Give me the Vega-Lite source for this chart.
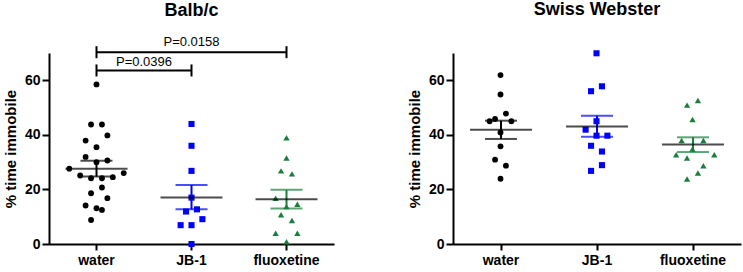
{
  "$schema": "https://vega.github.io/schema/vega-lite/v6.json",
  "padding": {"left": 3, "top": 1, "right": 3, "bottom": 2},
  "config": {
    "font": "Liberation Sans",
    "view": {"stroke": null},
    "axis": {"domainColor": "#000", "domainWidth": 2, "tickColor": "#000", "tickWidth": 2, "grid": false, "labelColor": "#000", "labelFontWeight": "bold", "titleColor": "#000", "titleFontWeight": "bold", "titleFontSize": 15, "labelFont": "Liberation Sans", "titleFont": "Liberation Sans"},
    "axisX": {"labelFontSize": 14, "tickSize": 6, "labelPadding": 3, "labelAngle": 0, "title": null},
    "axisY": {"labelFontSize": 14, "tickSize": 7, "labelPadding": 2, "titlePadding": 6},
    "title": {"fontSize": 18, "fontWeight": "bold", "color": "#000", "frame": "group", "anchor": "middle", "baseline": "alphabetic"},
    "concat": {"spacing": 73}
  },
  "datasets": {
    "points": [
      {"strain": "Balb/c", "group": "water", "value": 58.5, "slot": 0},
      {"strain": "Balb/c", "group": "water", "value": 43.8, "slot": -1},
      {"strain": "Balb/c", "group": "water", "value": 43.8, "slot": 1},
      {"strain": "Balb/c", "group": "water", "value": 39.8, "slot": 2},
      {"strain": "Balb/c", "group": "water", "value": 37.9, "slot": -2},
      {"strain": "Balb/c", "group": "water", "value": 35.5, "slot": 0},
      {"strain": "Balb/c", "group": "water", "value": 31.9, "slot": -2},
      {"strain": "Balb/c", "group": "water", "value": 30.0, "slot": 0},
      {"strain": "Balb/c", "group": "water", "value": 30.6, "slot": 2},
      {"strain": "Balb/c", "group": "water", "value": 27.6, "slot": -5},
      {"strain": "Balb/c", "group": "water", "value": 26.0, "slot": 5},
      {"strain": "Balb/c", "group": "water", "value": 25.1, "slot": -3},
      {"strain": "Balb/c", "group": "water", "value": 24.1, "slot": -1},
      {"strain": "Balb/c", "group": "water", "value": 24.1, "slot": 1},
      {"strain": "Balb/c", "group": "water", "value": 24.5, "slot": 3},
      {"strain": "Balb/c", "group": "water", "value": 20.7, "slot": 1},
      {"strain": "Balb/c", "group": "water", "value": 18.6, "slot": -1},
      {"strain": "Balb/c", "group": "water", "value": 16.8, "slot": 2},
      {"strain": "Balb/c", "group": "water", "value": 14.1, "slot": -2},
      {"strain": "Balb/c", "group": "water", "value": 13.1, "slot": 0},
      {"strain": "Balb/c", "group": "water", "value": 12.5, "slot": 1},
      {"strain": "Balb/c", "group": "water", "value": 8.8, "slot": -1},
      {"strain": "Balb/c", "group": "JB-1", "value": 44.0, "slot": 0},
      {"strain": "Balb/c", "group": "JB-1", "value": 36.0, "slot": 0},
      {"strain": "Balb/c", "group": "JB-1", "value": 26.8, "slot": 0},
      {"strain": "Balb/c", "group": "JB-1", "value": 17.0, "slot": 0},
      {"strain": "Balb/c", "group": "JB-1", "value": 11.9, "slot": -1},
      {"strain": "Balb/c", "group": "JB-1", "value": 12.7, "slot": 1},
      {"strain": "Balb/c", "group": "JB-1", "value": 9.1, "slot": 2},
      {"strain": "Balb/c", "group": "JB-1", "value": 6.9, "slot": -2},
      {"strain": "Balb/c", "group": "JB-1", "value": 6.9, "slot": 0},
      {"strain": "Balb/c", "group": "JB-1", "value": 0.0, "slot": 0},
      {"strain": "Balb/c", "group": "fluoxetine", "value": 38.9, "slot": 0},
      {"strain": "Balb/c", "group": "fluoxetine", "value": 31.5, "slot": 0},
      {"strain": "Balb/c", "group": "fluoxetine", "value": 26.8, "slot": -1},
      {"strain": "Balb/c", "group": "fluoxetine", "value": 25.7, "slot": 1},
      {"strain": "Balb/c", "group": "fluoxetine", "value": 16.8, "slot": -2},
      {"strain": "Balb/c", "group": "fluoxetine", "value": 13.7, "slot": 0},
      {"strain": "Balb/c", "group": "fluoxetine", "value": 14.6, "slot": 2},
      {"strain": "Balb/c", "group": "fluoxetine", "value": 10.7, "slot": -1},
      {"strain": "Balb/c", "group": "fluoxetine", "value": 8.6, "slot": 1},
      {"strain": "Balb/c", "group": "fluoxetine", "value": 3.9, "slot": -2},
      {"strain": "Balb/c", "group": "fluoxetine", "value": 3.9, "slot": 2},
      {"strain": "Balb/c", "group": "fluoxetine", "value": 0.8, "slot": 0},
      {"strain": "Swiss Webster", "group": "water", "value": 61.9, "slot": 0},
      {"strain": "Swiss Webster", "group": "water", "value": 54.8, "slot": 0},
      {"strain": "Swiss Webster", "group": "water", "value": 47.8, "slot": 1},
      {"strain": "Swiss Webster", "group": "water", "value": 45.8, "slot": -1},
      {"strain": "Swiss Webster", "group": "water", "value": 45.0, "slot": -2},
      {"strain": "Swiss Webster", "group": "water", "value": 45.0, "slot": 2},
      {"strain": "Swiss Webster", "group": "water", "value": 40.9, "slot": 0},
      {"strain": "Swiss Webster", "group": "water", "value": 35.8, "slot": 0},
      {"strain": "Swiss Webster", "group": "water", "value": 30.9, "slot": -1},
      {"strain": "Swiss Webster", "group": "water", "value": 28.7, "slot": 1},
      {"strain": "Swiss Webster", "group": "water", "value": 23.9, "slot": 0},
      {"strain": "Swiss Webster", "group": "JB-1", "value": 69.9, "slot": 0},
      {"strain": "Swiss Webster", "group": "JB-1", "value": 57.8, "slot": 1},
      {"strain": "Swiss Webster", "group": "JB-1", "value": 56.0, "slot": -1},
      {"strain": "Swiss Webster", "group": "JB-1", "value": 45.0, "slot": 0},
      {"strain": "Swiss Webster", "group": "JB-1", "value": 41.9, "slot": -2},
      {"strain": "Swiss Webster", "group": "JB-1", "value": 39.7, "slot": 0},
      {"strain": "Swiss Webster", "group": "JB-1", "value": 39.7, "slot": 2},
      {"strain": "Swiss Webster", "group": "JB-1", "value": 36.0, "slot": -1},
      {"strain": "Swiss Webster", "group": "JB-1", "value": 33.9, "slot": 1},
      {"strain": "Swiss Webster", "group": "JB-1", "value": 28.9, "slot": 1},
      {"strain": "Swiss Webster", "group": "JB-1", "value": 26.8, "slot": -1},
      {"strain": "Swiss Webster", "group": "fluoxetine", "value": 52.6, "slot": 1},
      {"strain": "Swiss Webster", "group": "fluoxetine", "value": 50.9, "slot": -1},
      {"strain": "Swiss Webster", "group": "fluoxetine", "value": 45.6, "slot": 0},
      {"strain": "Swiss Webster", "group": "fluoxetine", "value": 37.9, "slot": -2},
      {"strain": "Swiss Webster", "group": "fluoxetine", "value": 37.9, "slot": 2},
      {"strain": "Swiss Webster", "group": "fluoxetine", "value": 34.8, "slot": 0},
      {"strain": "Swiss Webster", "group": "fluoxetine", "value": 32.7, "slot": -3},
      {"strain": "Swiss Webster", "group": "fluoxetine", "value": 32.7, "slot": 4},
      {"strain": "Swiss Webster", "group": "fluoxetine", "value": 31.5, "slot": -1},
      {"strain": "Swiss Webster", "group": "fluoxetine", "value": 28.7, "slot": 2},
      {"strain": "Swiss Webster", "group": "fluoxetine", "value": 26.0, "slot": 1},
      {"strain": "Swiss Webster", "group": "fluoxetine", "value": 23.8, "slot": -1}
    ],
    "summary": [
      {"strain": "Balb/c", "group": "water", "mean": 27.6, "lo": 24.7, "hi": 30.5},
      {"strain": "Balb/c", "group": "JB-1", "mean": 17.0, "lo": 12.7, "hi": 21.6},
      {"strain": "Balb/c", "group": "fluoxetine", "mean": 16.4, "lo": 13.0, "hi": 19.85},
      {"strain": "Swiss Webster", "group": "water", "mean": 41.9, "lo": 38.5, "hi": 45.2},
      {"strain": "Swiss Webster", "group": "JB-1", "mean": 43.1, "lo": 39.3, "hi": 47.0},
      {"strain": "Swiss Webster", "group": "fluoxetine", "mean": 36.5, "lo": 33.7, "hi": 39.1}
    ],
    "brackets": [
      {"from": "water", "to": "fluoxetine", "y": 70.3},
      {"from": "water", "to": "JB-1", "y": 63.6}
    ],
    "bracketEnds": [
      {"group": "water", "ylo": 68.1, "yhi": 72.5},
      {"group": "fluoxetine", "ylo": 68.1, "yhi": 72.5},
      {"group": "water", "ylo": 61.4, "yhi": 65.8},
      {"group": "JB-1", "ylo": 61.4, "yhi": 65.8}
    ],
    "pLabels": [
      {"group": "JB-1", "y": 73.9, "label": "P=0.0158", "place": "center"},
      {"group": "JB-1", "y": 66.8, "label": "P=0.0396", "place": "between"}
    ]
  },
  "hconcat": [
    {
      "title": {"text": "Balb/c", "offset": 16},
      "width": 285,
      "height": 191,
      "layer": [
        {
          "data": {"name": "points"},
          "transform": [{"filter": "datum.strain === 'Balb/c'"}],
          "mark": {"type": "point", "filled": true, "opacity": 1},
          "encoding": {
            "x": {"field": "group", "type": "nominal", "sort": ["water", "JB-1", "fluoxetine"], "scale": {"type": "band", "domain": ["water", "JB-1", "fluoxetine"], "paddingInner": 0, "paddingOuter": 0}},
            "xOffset": {"field": "slot", "type": "quantitative", "scale": {"domain": [-8.636, 8.636]}},
            "y": {"field": "value", "type": "quantitative", "title": "% time immobile", "scale": {"domain": [0, 70], "nice": false}, "axis": {"values": [0, 20, 40, 60]}},
            "color": {"field": "group", "type": "nominal", "scale": {"domain": ["water", "JB-1", "fluoxetine"], "range": ["#000000", "#0000ff", "#1a7f3c"]}, "legend": null},
            "shape": {"field": "group", "type": "nominal", "scale": {"domain": ["water", "JB-1", "fluoxetine"], "range": ["circle", "square", "triangle-up"]}, "legend": null},
            "size": {"field": "group", "type": "nominal", "scale": {"domain": ["water", "JB-1", "fluoxetine"], "range": [34, 40, 40]}, "legend": null}
          }
        },
        {
          "data": {"name": "summary"},
          "transform": [{"filter": "datum.strain === 'Balb/c'"}],
          "mark": {"type": "rule", "strokeWidth": 2},
          "encoding": {
            "x": {"field": "group", "type": "nominal"},
            "y": {"field": "lo", "type": "quantitative", "title": "% time immobile"},
            "y2": {"field": "hi"},
            "color": {"field": "group", "type": "nominal", "legend": null}
          }
        },
        {
          "data": {"name": "summary"},
          "transform": [{"filter": "datum.strain === 'Balb/c'"}],
          "mark": {"type": "tick", "size": 32, "thickness": 2},
          "encoding": {
            "x": {"field": "group", "type": "nominal"},
            "y": {"field": "lo", "type": "quantitative", "title": "% time immobile"},
            "color": {"field": "group", "type": "nominal", "legend": null}
          }
        },
        {
          "data": {"name": "summary"},
          "transform": [{"filter": "datum.strain === 'Balb/c'"}],
          "mark": {"type": "tick", "size": 32, "thickness": 2},
          "encoding": {
            "x": {"field": "group", "type": "nominal"},
            "y": {"field": "hi", "type": "quantitative", "title": "% time immobile"},
            "color": {"field": "group", "type": "nominal", "legend": null}
          }
        },
        {
          "data": {"name": "summary"},
          "transform": [{"filter": "datum.strain === 'Balb/c'"}],
          "mark": {"type": "tick", "size": 62, "thickness": 2, "color": "#000"},
          "encoding": {
            "x": {"field": "group", "type": "nominal"},
            "y": {"field": "mean", "type": "quantitative", "title": "% time immobile"}
          }
        },
        {
          "data": {"name": "brackets"},
          "mark": {"type": "rule", "strokeWidth": 2, "color": "#000"},
          "encoding": {
            "x": {"field": "from", "type": "nominal"},
            "x2": {"field": "to"},
            "y": {"field": "y", "type": "quantitative", "title": "% time immobile"}
          }
        },
        {
          "data": {"name": "bracketEnds"},
          "mark": {"type": "rule", "strokeWidth": 2, "color": "#000"},
          "encoding": {
            "x": {"field": "group", "type": "nominal"},
            "y": {"field": "ylo", "type": "quantitative", "title": "% time immobile"},
            "y2": {"field": "yhi"}
          }
        },
        {
          "data": {"name": "pLabels"},
          "transform": [{"filter": "datum.place === 'center'"}],
          "mark": {"type": "text", "fontSize": 13, "baseline": "middle", "align": "center", "color": "#000"},
          "encoding": {
            "x": {"field": "group", "type": "nominal", "bandPosition": 0.5},
            "y": {"field": "y", "type": "quantitative", "title": "% time immobile"},
            "text": {"field": "label"}
          }
        },
        {
          "data": {"name": "pLabels"},
          "transform": [{"filter": "datum.place === 'between'"}],
          "mark": {"type": "text", "fontSize": 13, "baseline": "middle", "align": "center", "color": "#000"},
          "encoding": {
            "x": {"field": "group", "type": "nominal", "bandPosition": 0},
            "y": {"field": "y", "type": "quantitative", "title": "% time immobile"},
            "text": {"field": "label"}
          }
        }
      ]
    },
    {
      "title": {"text": "Swiss Webster", "offset": 31},
      "width": 288,
      "height": 191,
      "layer": [
        {
          "data": {"name": "points"},
          "transform": [{"filter": "datum.strain === 'Swiss Webster'"}],
          "mark": {"type": "point", "filled": true, "opacity": 1},
          "encoding": {
            "x": {"field": "group", "type": "nominal", "sort": ["water", "JB-1", "fluoxetine"], "scale": {"type": "band", "domain": ["water", "JB-1", "fluoxetine"], "paddingInner": 0, "paddingOuter": 0}},
            "xOffset": {"field": "slot", "type": "quantitative", "scale": {"domain": [-8.727, 8.727]}},
            "y": {"field": "value", "type": "quantitative", "title": "% time immobile", "scale": {"domain": [0, 70], "nice": false}, "axis": {"values": [0, 20, 40, 60]}},
            "color": {"field": "group", "type": "nominal", "scale": {"domain": ["water", "JB-1", "fluoxetine"], "range": ["#000000", "#0000ff", "#1a7f3c"]}, "legend": null},
            "shape": {"field": "group", "type": "nominal", "scale": {"domain": ["water", "JB-1", "fluoxetine"], "range": ["circle", "square", "triangle-up"]}, "legend": null},
            "size": {"field": "group", "type": "nominal", "scale": {"domain": ["water", "JB-1", "fluoxetine"], "range": [34, 40, 40]}, "legend": null}
          }
        },
        {
          "data": {"name": "summary"},
          "transform": [{"filter": "datum.strain === 'Swiss Webster'"}],
          "mark": {"type": "rule", "strokeWidth": 2},
          "encoding": {
            "x": {"field": "group", "type": "nominal"},
            "y": {"field": "lo", "type": "quantitative", "title": "% time immobile"},
            "y2": {"field": "hi"},
            "color": {"field": "group", "type": "nominal", "legend": null}
          }
        },
        {
          "data": {"name": "summary"},
          "transform": [{"filter": "datum.strain === 'Swiss Webster'"}],
          "mark": {"type": "tick", "size": 32, "thickness": 2},
          "encoding": {
            "x": {"field": "group", "type": "nominal"},
            "y": {"field": "lo", "type": "quantitative", "title": "% time immobile"},
            "color": {"field": "group", "type": "nominal", "legend": null}
          }
        },
        {
          "data": {"name": "summary"},
          "transform": [{"filter": "datum.strain === 'Swiss Webster'"}],
          "mark": {"type": "tick", "size": 32, "thickness": 2},
          "encoding": {
            "x": {"field": "group", "type": "nominal"},
            "y": {"field": "hi", "type": "quantitative", "title": "% time immobile"},
            "color": {"field": "group", "type": "nominal", "legend": null}
          }
        },
        {
          "data": {"name": "summary"},
          "transform": [{"filter": "datum.strain === 'Swiss Webster'"}],
          "mark": {"type": "tick", "size": 62, "thickness": 2, "color": "#000"},
          "encoding": {
            "x": {"field": "group", "type": "nominal"},
            "y": {"field": "mean", "type": "quantitative", "title": "% time immobile"}
          }
        }
      ]
    }
  ]
}
